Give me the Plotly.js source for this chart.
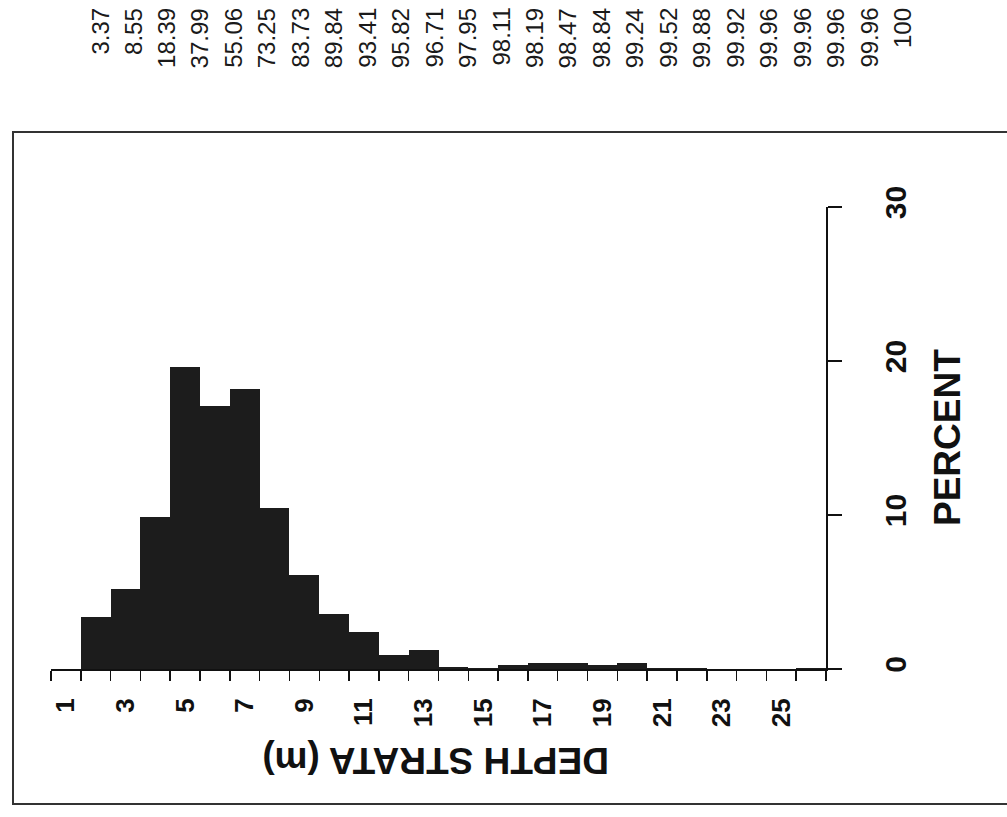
<!DOCTYPE html>
<html>
<head>
<meta charset="utf-8">
<script src="https://cdn.plot.ly/plotly-3.0.1.min.js"></script>
<style>
html,body{margin:0;padding:0;background:#ffffff;}
#chart{width:1007px;height:817px;}
</style>
</head>
<body>
<div id="chart"></div>
<script>
// ---- data ----
const depthStrata = [1,2,3,4,5,6,7,8,9,10,11,12,13,14,15,16,17,18,19,20,21,22,23,24,25,26];
const percentValues = [0, 3.37, 5.18, 9.84, 19.60, 17.07, 18.19, 10.48, 6.11, 3.57, 2.41, 0.89, 1.24, 0.16, 0.08, 0.28, 0.37, 0.40, 0.28, 0.36, 0.04, 0.04, 0, 0, 0, 0.04];
const cumulativeLabels = ["3.37","8.55","18.39","37.99","55.06","73.25","83.73","89.84","93.41","95.82","96.71","97.95","98.11","98.19","98.47","98.84","99.24","99.52","99.88","99.92","99.96","99.96","99.96","99.96","100"];
const depthTickValues = [1,3,5,7,9,11,13,15,17,19,21,23,25];
const depthTickLabels = ["1","3","5","7","9","11","13","15","17","19","21","23","25"];
const percentTickValues = [0,10,20,30];
const percentTickLabels = ["0","10","20","30"];
const xTitle = "DEPTH STRATA (m)";
const yTitle = "PERCENT";

// ---- layout geometry ----
const W = 1007, H = 817;
const M = {l: 51, r: 181, t: 207, b: 148};
const PW = W - M.l - M.r, PH = H - M.t - M.b;
const px = x => (x - M.l) / PW;
const py = y => (H - M.b - y) / PH;

const binEdges = depthStrata.map(d => d - 0.5).concat([depthStrata[depthStrata.length-1] + 0.5]);

const FONT = '"Liberation Sans", Arial, sans-serif';
const BOLD = '"Liberation Sans", Arial, sans-serif';

const annotations = [];
cumulativeLabels.forEach((t, i) => {
  annotations.push({
    text: t, xref: 'paper', yref: 'paper',
    x: px(100 + 33.46 * i), y: py(6),
    xanchor: 'center', yanchor: 'top', textangle: -90,
    showarrow: false,
    font: {family: FONT, size: 24, color: '#1a1a1a'}
  });
});
annotations.push({
  text: '<b>' + xTitle + '</b>', xref: 'paper', yref: 'paper',
  x: px(436), y: py(761), xanchor: 'center', yanchor: 'middle',
  textangle: 180, showarrow: false,
  font: {family: BOLD, size: 37, color: '#111'}
});
annotations.push({
  text: '<b>' + yTitle + '</b>', xref: 'paper', yref: 'paper',
  x: px(947), y: py(438), xanchor: 'center', yanchor: 'middle',
  textangle: -90, showarrow: false,
  font: {family: BOLD, size: 37, color: '#111'}
});

const trace = {
  type: 'bar',
  x: depthStrata,
  y: percentValues,
  marker: {color: '#1c1c1c', line: {width: 0}},
  hoverinfo: 'skip'
};

const layout = {
  width: W, height: H,
  margin: M,
  paper_bgcolor: '#ffffff', plot_bgcolor: 'rgba(0,0,0,0)',
  showlegend: false,
  bargap: 0,
  xaxis: {
    range: [binEdges[0], binEdges[binEdges.length-1]],
    tickmode: 'array', tickvals: binEdges,
    showticklabels: false,
    ticks: 'outside', ticklen: 10, tickwidth: 1.5, tickcolor: '#111',
    showline: true, linecolor: '#111', linewidth: 1.5,
    showgrid: false, zeroline: false, fixedrange: true
  },
  xaxis2: {
    overlaying: 'x', anchor: 'y', side: 'bottom',
    range: [binEdges[0], binEdges[binEdges.length-1]],
    tickmode: 'array', tickvals: depthTickValues, ticktext: depthTickLabels,
    tickangle: -90,
    ticks: 'outside', ticklen: 18, tickcolor: 'rgba(0,0,0,0)',
    tickfont: {family: BOLD, size: 26, color: '#111', weight: 'bold'},
    showline: false, showgrid: false, zeroline: false, fixedrange: true
  },
  yaxis: {
    side: 'right',
    range: [0, 30],
    tickmode: 'array', tickvals: percentTickValues, ticktext: percentTickLabels,
    tickangle: -90,
    ticks: 'outside', ticklen: 14, tickwidth: 1.5, tickcolor: '#111',
    ticklabelstandoff: 28,
    tickfont: {family: BOLD, size: 30, color: '#111', weight: 'bold'},
    showline: true, linecolor: '#111', linewidth: 1.5,
    showgrid: false, zeroline: false, fixedrange: true
  },
  shapes: [{
    type: 'rect', xref: 'paper', yref: 'paper',
    x0: px(13), x1: px(1015), y0: py(804), y1: py(132),
    line: {color: '#333', width: 2}, fillcolor: 'rgba(0,0,0,0)', layer: 'below'
  }],
  annotations: annotations
};

const trace2 = {type: 'scatter', x: [depthStrata[0]], y: [0], xaxis: 'x2', yaxis: 'y', mode: 'markers', marker: {opacity: 0}, hoverinfo: 'skip'};

Plotly.newPlot('chart', [trace, trace2], layout, {displayModeBar: false, staticPlot: true});
</script>
</body>
</html>
